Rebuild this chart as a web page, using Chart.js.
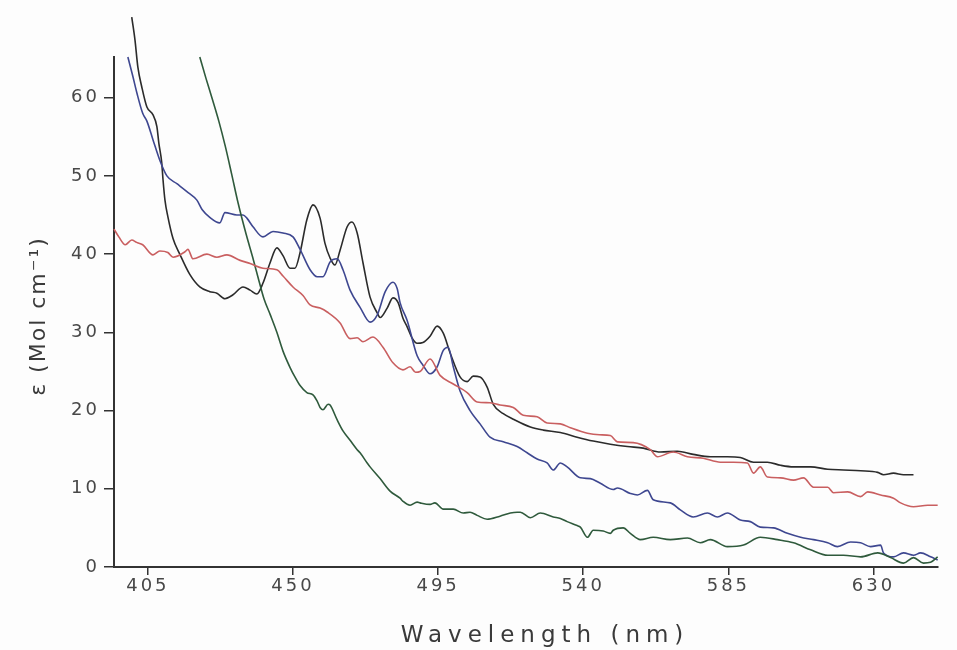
<!DOCTYPE html>
<html>
<head>
<meta charset="utf-8">
<script src="https://cdn.jsdelivr.net/npm/chart.js@4.4.1/dist/chart.umd.min.js"></script>
<style>
  html, body { margin: 0; padding: 0; background: #fdfdfd; }
  canvas { display: block; }
</style>
</head>
<body>
<canvas id="spectra" width="957" height="650"></canvas>
<script>
// axis ticks
const xTicks = [405, 450, 495, 540, 585, 630];
const yTicks = [0, 10, 20, 30, 40, 50, 60];

// red trace
const redNm = [394.5, 396, 398, 400, 401.5, 403.4, 406.6, 408.7, 411.2, 412.8, 416.5, 417.4, 419, 423.3, 426.4, 429.5, 433.6, 436.7, 440.7, 445, 446.9, 450, 453.1, 455.3, 458.4, 460.6, 464.6, 467.7, 469.9, 471.7, 474.8, 477.9, 481, 484.1, 486.3, 488, 489.4, 492.5, 495.6, 499.7, 504, 507.1, 511.1, 514.2, 518.3, 521.4, 525.7, 528.8, 532.9, 536, 541.3, 545, 548.4, 550.6, 555.5, 560.8, 563, 567.9, 572.3, 577.2, 582.5, 586.6, 590.9, 592.8, 594.9, 597.1, 601.2, 605.2, 608.3, 611.4, 615.8, 617.6, 622, 626, 628.2, 632.2, 636.2, 638.4, 642.4, 646.8, 649.9];
const redEps = [43.2, 42.2, 41.2, 41.8, 41.5, 41.2, 39.9, 40.4, 40.2, 39.6, 40.3, 40.6, 39.4, 40.0, 39.6, 39.9, 39.2, 38.8, 38.2, 38.0, 37.2, 35.8, 34.7, 33.5, 33.1, 32.6, 31.2, 29.2, 29.3, 28.8, 29.4, 28.1, 26.1, 25.2, 25.6, 24.9, 25.0, 26.6, 24.5, 23.4, 22.3, 21.1, 21.0, 20.7, 20.4, 19.4, 19.2, 18.4, 18.3, 17.8, 17.1, 16.9, 16.8, 16.0, 15.9, 15.0, 14.1, 14.7, 14.1, 13.9, 13.4, 13.4, 13.3, 12.0, 12.8, 11.5, 11.4, 11.1, 11.4, 10.2, 10.2, 9.5, 9.6, 9.0, 9.6, 9.2, 8.8, 8.2, 7.7, 7.9, 7.9];

// blue trace
const blueNm = [398.8, 400.3, 401.6, 403.4, 404.7, 406.6, 408.7, 410.9, 414, 417.1, 420.2, 421.8, 424.2, 427.3, 428.9, 432.6, 434.5, 435.7, 437.6, 440.7, 443.8, 446.9, 450, 452.2, 455.3, 457.5, 459.3, 461.5, 463.7, 465.5, 467.7, 470.8, 473.9, 476.1, 478.6, 481, 482.3, 483.2, 485.4, 488.5, 490.3, 492.5, 494.7, 496.6, 498.1, 499.7, 501.8, 504.9, 508, 511.1, 515.2, 519.5, 522.6, 525.7, 528.8, 530.7, 532.9, 535, 539.1, 542.2, 545.3, 549.3, 550.6, 554.6, 556.8, 559.9, 561.7, 567, 570.1, 574.1, 578.5, 581.6, 584.7, 588.7, 591.8, 594.9, 599, 603.3, 607.4, 611.4, 615.8, 618.8, 622.9, 626, 629.1, 632.2, 633.1, 636.2, 639.3, 642.4, 644.6, 647.7, 649.9];
const blueEps = [65.2, 62.8, 60.6, 58.0, 57.0, 54.6, 52.0, 50.0, 49.0, 48.0, 46.9, 45.7, 44.7, 44.0, 45.3, 45.0, 45.0, 44.6, 43.5, 42.2, 42.9, 42.7, 42.2, 40.6, 38.0, 37.1, 37.1, 39.0, 39.4, 38.0, 35.4, 33.2, 31.3, 32.2, 35.2, 36.4, 35.6, 33.8, 31.5, 27.0, 25.8, 24.7, 25.6, 27.7, 28.1, 25.6, 22.5, 20.0, 18.3, 16.6, 16.0, 15.4, 14.6, 13.8, 13.3, 12.4, 13.3, 12.8, 11.4, 11.3, 10.7, 9.9, 10.1, 9.4, 9.2, 9.8, 8.6, 8.2, 7.3, 6.4, 6.9, 6.4, 6.9, 6.0, 5.8, 5.1, 5.0, 4.3, 3.8, 3.5, 3.1, 2.6, 3.2, 3.1, 2.6, 2.8, 1.8, 1.3, 1.8, 1.5, 1.8, 1.3, 0.9];

// black trace
const blackNm = [400, 401, 401.9, 403.1, 404.7, 406.6, 407.8, 408.4, 409.3, 409.7, 410.3, 411.2, 412.8, 414.9, 418, 421.1, 424.2, 426.4, 428.9, 431.4, 434.5, 436.7, 438.8, 440.7, 442.9, 445, 446.9, 449.1, 450.6, 452.2, 454.3, 456.2, 458.4, 459.9, 461.5, 463, 464.6, 466.8, 468.3, 469.9, 471.7, 473.9, 476.1, 477, 479.2, 481, 482.6, 484.1, 485.4, 486.9, 488.5, 490.3, 492.5, 494.7, 496.6, 498.7, 501.8, 504, 505.9, 508, 510.2, 512.1, 515.2, 518.3, 523.6, 527.6, 532.9, 538.1, 543.1, 548.4, 553.7, 558.6, 563.9, 569.2, 574.1, 579.4, 584.7, 588.7, 592.8, 597.1, 601.2, 605.2, 610.5, 615.8, 620.7, 626, 631.3, 633.1, 636.2, 639.3, 642.4];
const blackEps = [70.3, 67.4, 63.9, 61.4, 58.8, 57.8, 56.3, 54.2, 51.7, 49.5, 46.9, 44.8, 42.0, 40.0, 37.4, 35.8, 35.2, 35.0, 34.3, 34.8, 35.8, 35.4, 34.9, 36.3, 38.9, 40.8, 39.8, 38.2, 38.2, 40.2, 44.4, 46.3, 44.6, 41.4, 39.5, 38.6, 40.5, 43.5, 44.1, 42.7, 38.9, 34.5, 32.5, 31.9, 33.1, 34.4, 33.8, 31.8, 30.7, 29.3, 28.6, 28.7, 29.5, 30.8, 29.9, 27.4, 24.3, 23.7, 24.4, 24.3, 23.0, 20.8, 19.6, 18.9, 17.9, 17.5, 17.2, 16.6, 16.1, 15.7, 15.4, 15.2, 14.7, 14.8, 14.4, 14.1, 14.1, 14.0, 13.4, 13.4, 13.0, 12.8, 12.8, 12.5, 12.4, 12.3, 12.1, 11.8, 12.0, 11.8, 11.8];

// green trace
const greenNm = [421.1, 423, 425, 427, 429, 431, 433, 435.5, 437.5, 439.5, 441, 443, 445, 446.9, 449.1, 450.6, 452.2, 454.3, 456.2, 457.5, 458.4, 459.3, 460.9, 461.5, 463.7, 465.5, 467.7, 469.9, 470.8, 473, 473.9, 477, 480.1, 483.2, 484.1, 486.3, 488.5, 489.4, 492.5, 494, 496.6, 499.7, 502.8, 504.9, 507.1, 510.2, 514.2, 517.4, 519.5, 520.5, 523.6, 526.7, 530.7, 532.9, 535, 538.1, 539.1, 541.3, 543.1, 546.2, 548.4, 549.3, 552.4, 554.6, 557.7, 561.7, 567, 572.3, 576.3, 579.4, 584.7, 589.7, 594.9, 600.2, 605.2, 610.5, 615.8, 620.7, 626, 631.3, 635.3, 639.3, 642.4, 645.5, 647.7, 649.9];
const greenEps = [65.2, 62.5, 59.8, 57.0, 53.8, 50.2, 46.5, 42.5, 39.6, 36.5, 34.3, 32.2, 30.0, 27.6, 25.5, 24.3, 23.2, 22.3, 22.0, 21.2, 20.4, 20.1, 20.8, 20.7, 18.8, 17.4, 16.2, 15.0, 14.6, 13.3, 12.8, 11.3, 9.7, 8.8, 8.4, 7.9, 8.3, 8.2, 8.0, 8.2, 7.4, 7.4, 6.9, 7.0, 6.6, 6.1, 6.5, 6.9, 7.0, 7.0, 6.3, 6.9, 6.4, 6.2, 5.8, 5.3, 5.1, 3.8, 4.7, 4.6, 4.3, 4.7, 5.0, 4.3, 3.5, 3.8, 3.5, 3.7, 3.1, 3.5, 2.6, 2.8, 3.8, 3.5, 3.1, 2.2, 1.5, 1.5, 1.3, 1.8, 1.2, 0.5, 1.2, 0.5, 0.6, 1.3];

function toPoints(nm, eps) {
  return nm.map((x, i) => ({ x: x, y: eps[i] }));
}

function trace(data, color) {
  return {
    data: data,
    borderColor: color,
    borderWidth: 1.6,
    pointRadius: 0,
    cubicInterpolationMode: "monotone",
    clip: false,
  };
}

// tick labels get a little spacing, axis titles are drawn with their own
const axisTitles = {
  id: "axisTitles",
  beforeDraw(chart) {
    chart.ctx.letterSpacing = "3px";
  },
  afterDraw(chart) {
    const ctx = chart.ctx;
    const area = chart.chartArea;
    ctx.save();
    ctx.fillStyle = "#3a3a3a";
    ctx.textAlign = "center";
    ctx.textBaseline = "alphabetic";
    ctx.font = '23px "DejaVu Sans"';
    ctx.letterSpacing = "6px";
    ctx.fillText(chart.options.scales.x.title.text, (area.left + area.right) / 2 + 19, 642);
    ctx.font = '22px "DejaVu Sans"';
    ctx.translate(45, (area.top + area.bottom) / 2 + 4);
    ctx.rotate(-Math.PI / 2);
    ctx.letterSpacing = "2px";
    ctx.fillText(chart.options.scales.y.title.text, 0, 0);
    ctx.restore();
    ctx.letterSpacing = "0px";
  },
};

const tickFont = { family: "DejaVu Sans", size: 18 };

new Chart(document.getElementById("spectra"), {
  type: "line",
  data: {
    datasets: [
      trace(toPoints(redNm, redEps), "#c95f60"),
      trace(toPoints(greenNm, greenEps), "#2f5a3c"),
      trace(toPoints(blueNm, blueEps), "#3e4790"),
      trace(toPoints(blackNm, blackEps), "#2b2b2b"),
    ],
  },
  options: {
    responsive: false,
    animation: false,
    layout: { padding: { left: 0, top: 57, right: 19, bottom: 0 } },
    plugins: {
      legend: { display: false },
      tooltip: { enabled: false },
    },
    scales: {
      x: {
        type: "linear",
        min: 394.5,
        max: 650,
        afterBuildTicks: (s) => { s.ticks = xTicks.map((v) => ({ value: v })); },
        afterFit: (s) => { s.height = 83; },
        title: { display: false, text: "Wavelength (nm)" },
        border: { color: "#333", width: 2 },
        grid: { drawOnChartArea: false, drawTicks: true, tickLength: 8, color: "#333", lineWidth: 1.5 },
        ticks: { font: tickFont, color: "#484848", padding: 1, maxRotation: 0 },
      },
      y: {
        min: 0,
        max: 65.2,
        afterBuildTicks: (s) => { s.ticks = yTicks.map((v) => ({ value: v })); },
        afterFit: (s) => { s.width = 114; },
        title: { display: false, text: "ε (Mol cm⁻¹)" },
        border: { color: "#333", width: 2 },
        grid: { drawOnChartArea: false, drawTicks: true, tickLength: 10, color: "#333", lineWidth: 1.5 },
        ticks: { font: tickFont, color: "#484848", padding: 4 },
      },
    },
  },
  plugins: [axisTitles],
});
</script>
</body>
</html>
